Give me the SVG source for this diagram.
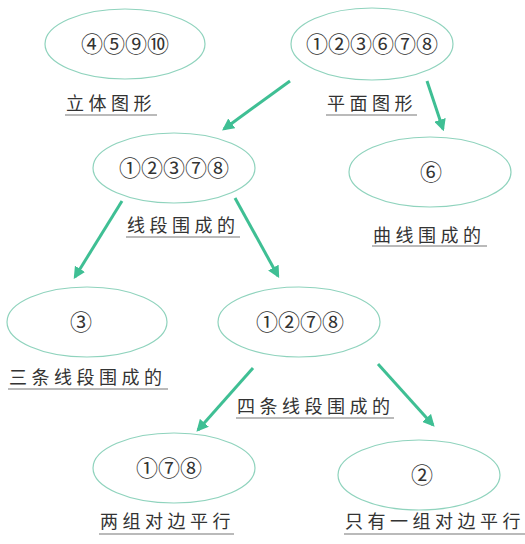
<svg xmlns="http://www.w3.org/2000/svg" width="525" height="544" viewBox="0 0 525 544">
<style>
.node ellipse{fill:#fff;stroke:#8fd3bd;stroke-width:1.2}
.num{font-family:"Liberation Serif","DejaVu Serif","Noto Sans CJK SC",serif;font-size:22px;fill:#333;text-anchor:middle;dominant-baseline:central}
.lbl{font-family:"Noto Sans CJK SC",sans-serif;font-size:18px;fill:#333;letter-spacing:4.5px}
.ul{stroke:#777;stroke-width:1.2}
.conn line{stroke:#3fbf94;stroke-width:3;marker-end:url(#ah)}
</style>
<defs>
<marker id="ah" viewBox="0 0 10 10" refX="8" refY="5" markerWidth="4" markerHeight="4" orient="auto" markerUnits="strokeWidth">
<path d="M0,0 L10,5 L0,10 z" fill="#3fbf94"/>
</marker>
</defs>
<rect width="525" height="544" fill="#fff"/>
<g id="n-solid" class="node">
<ellipse cx="125" cy="44" rx="80" ry="35"/>
<text class="num" x="125" y="44">④⑤⑨⑩</text>
<text class="lbl" x="66" y="110">立体图形</text>
<line class="ul" x1="65" y1="115" x2="157" y2="115"/>
</g>
<g id="n-plane" class="node">
<ellipse cx="372" cy="44" rx="81" ry="36"/>
<text class="num" x="372" y="44">①②③⑥⑦⑧</text>
<text class="lbl" x="327" y="110">平面图形</text>
<line class="ul" x1="326" y1="115" x2="417" y2="115"/>
</g>
<g id="n-segments" class="node">
<ellipse cx="174" cy="168" rx="81" ry="35"/>
<text class="num" x="174" y="168">①②③⑦⑧</text>
<text class="lbl" x="127" y="232">线段围成的</text>
<line class="ul" x1="126" y1="237" x2="240" y2="237"/>
</g>
<g id="n-curve" class="node">
<ellipse cx="430" cy="172" rx="81" ry="35"/>
<text class="num" x="431" y="172">⑥</text>
<text class="lbl" x="373" y="242">曲线围成的</text>
<line class="ul" x1="372" y1="246" x2="487" y2="246"/>
</g>
<g id="n-three" class="node">
<ellipse cx="87" cy="322" rx="80" ry="35"/>
<text class="num" x="81" y="322">③</text>
<text class="lbl" x="9" y="384">三条线段围成的</text>
<line class="ul" x1="8" y1="389" x2="168" y2="389"/>
</g>
<g id="n-four" class="node">
<ellipse cx="299" cy="322" rx="81" ry="35"/>
<text class="num" x="300" y="322">①②⑦⑧</text>
<text class="lbl" x="237" y="413">四条线段围成的</text>
<line class="ul" x1="236" y1="418" x2="394" y2="418"/>
</g>
<g id="n-two-pairs" class="node">
<ellipse cx="174" cy="468" rx="81" ry="35"/>
<text class="num" x="169" y="468">①⑦⑧</text>
<text class="lbl" x="100" y="528">两组对边平行</text>
<line class="ul" x1="99" y1="534" x2="234" y2="534"/>
</g>
<g id="n-one-pair" class="node">
<ellipse cx="419" cy="475" rx="81" ry="35"/>
<text class="num" x="422" y="475">②</text>
<text class="lbl" x="345" y="528">只有一组对边平行</text>
<line class="ul" x1="344" y1="534" x2="525" y2="534"/>
</g>
<g id="connectors" class="conn">
<line x1="290" y1="81" x2="224" y2="129"/>
<line x1="427" y1="81" x2="443" y2="129"/>
<line x1="122" y1="201" x2="75" y2="277"/>
<line x1="235" y1="198" x2="278" y2="276"/>
<line x1="253" y1="368" x2="198" y2="430"/>
<line x1="378" y1="364" x2="433" y2="425"/>
</g>
</svg>
